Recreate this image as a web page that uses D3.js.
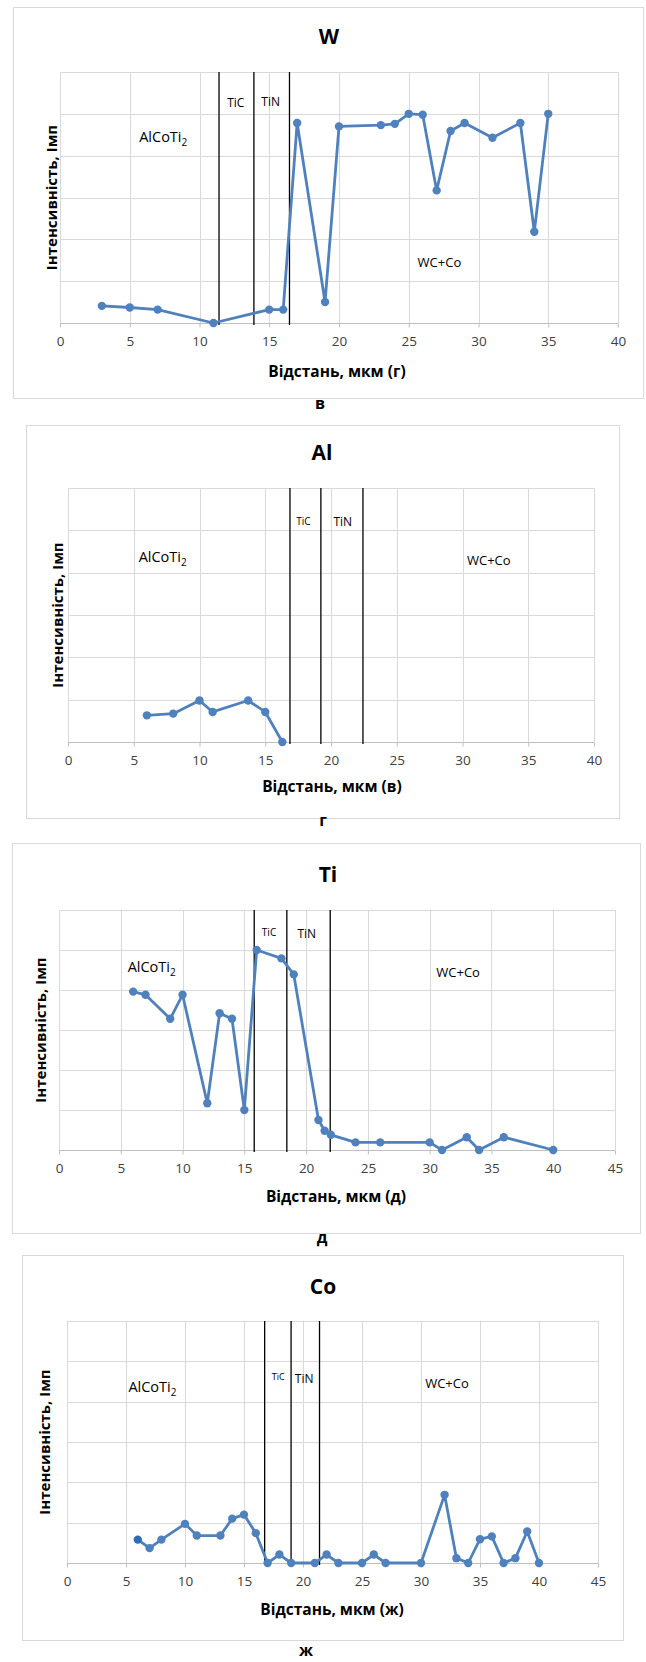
<!DOCTYPE html>
<html>
<head>
<meta charset="utf-8">
<script src="https://cdnjs.cloudflare.com/ajax/libs/d3/7.8.5/d3.min.js"></script>
<style>
  body { margin: 0; background: #fff; }
  text { font-family: "Open Sans", "Noto Sans", sans-serif; fill: #000; }
</style>
</head>
<body>
<div id="chart"></div>
<script>
var width = 646,
    height = 1662;

// W profile
var wX = [3, 5, 7, 11, 15, 16, 17, 19, 20, 23, 24, 25, 26, 27, 28, 29, 31, 33, 34, 35];
var wY = [4.1, 3.7, 3.2, 0, 3.2, 3.2, 47.8, 5.0, 47.0, 47.3, 47.6, 50.0, 49.8, 31.7, 45.9, 47.8, 44.3, 47.8, 21.8, 50.0];
var wBounds = [11.4, 13.9, 16.45];

// Al profile
var alX = [6, 8, 10, 11, 13.7, 15, 16.3];
var alY = [6.3, 6.7, 9.8, 7.1, 9.8, 7.1, 0];
var alBounds = [16.88, 19.23, 22.43];

// Ti profile
var tiX = [6, 7, 9, 10, 12, 13, 14, 15, 16, 18, 19, 21, 21.5, 22, 24, 26, 30, 31, 33, 34, 36, 40];
var tiY = [39.6, 38.8, 32.8, 38.8, 11.7, 34.2, 32.8, 10.0, 50.0, 47.9, 43.9, 7.5, 4.8, 3.8, 1.9, 1.9, 1.9, 0, 3.2, 0, 3.2, 0];
var tiBounds = [15.8, 18.44, 21.95];

// Co profile
var coX = [6, 7, 8, 10, 11, 13, 14, 15, 16, 17, 18, 19, 21, 22, 23, 25, 26, 27, 30, 32, 33, 34, 35, 36, 37, 38, 39, 40];
var coY = [5.8, 3.7, 5.8, 9.7, 6.8, 6.8, 11.0, 12.0, 7.4, 0, 2.1, 0, 0, 2.1, 0, 0, 2.1, 0, 0, 16.9, 1.2, 0, 5.9, 6.6, 0, 1.2, 7.8, 0];
var coBounds = [16.75, 18.99, 21.4];

var ticks40 = [0, 5, 10, 15, 20, 25, 30, 35, 40];
var ticks45 = [0, 5, 10, 15, 20, 25, 30, 35, 40, 45];
var yGrid = [0, 10, 20, 30, 40, 50, 60];

var yTitle = 'Інтенсивність, Імп';
var lineColor = '#4f81bd';

var svg = d3.select('#chart')
    .append('svg')
    .attr('width', width)
    .attr('height', height);

var charts = [
    { title: 'W', xs: wX, ys: wY, bounds: wBounds, ticks: ticks40, xMax: 40,
      box: [13, 7, 643, 398], plot: [60, 72, 618, 323],
      titleX: 329, titleY: 44, xTitle: 'Відстань, мкм (г)', xTitleY: 377, xTitleX: 337, yTitleX: 52,
      tic: [12.6, 107, 12], tin: [15.1, 106, 12], alco: [7.4, 142], wc: [27.2, 267],
      tag: 'в', tagX: 320, tagY: 409 },
    { title: 'Al', xs: alX, ys: alY, bounds: alBounds, ticks: ticks40, xMax: 40,
      box: [26, 425, 619, 818], plot: [68, 488, 594, 742],
      titleX: 322, titleY: 460, xTitle: 'Відстань, мкм (в)', xTitleY: 792, xTitleX: 332, yTitleX: 58,
      tic: [17.9, 525, 10], tin: [20.9, 526, 12], alco: [7.2, 562], wc: [32.0, 565],
      tag: 'г', tagX: 323, tagY: 826 },
    { title: 'Ti', xs: tiX, ys: tiY, bounds: tiBounds, ticks: ticks45, xMax: 45,
      box: [12, 843, 640, 1233], plot: [59, 910, 615, 1150],
      titleX: 328, titleY: 882, xTitle: 'Відстань, мкм (д)', xTitleY: 1202, xTitleX: 336, yTitleX: 41,
      tic: [17.0, 936, 10], tin: [20.05, 938, 12], alco: [7.5, 972], wc: [32.3, 977],
      tag: 'д', tagX: 322, tagY: 1243 },
    { title: 'Co', xs: coX, ys: coY, bounds: coBounds, ticks: ticks45, xMax: 45,
      box: [22, 1255, 623, 1640], plot: [67, 1321, 598, 1563],
      titleX: 323, titleY: 1294, xTitle: 'Відстань, мкм (ж)', xTitleY: 1615, xTitleX: 332, yTitleX: 45,
      tic: [17.9, 1380, 9], tin: [20.1, 1383, 12], alco: [7.24, 1392], wc: [32.2, 1388],
      tag: 'ж', tagX: 306, tagY: 1656, firstDark: true }
];

charts.forEach(drawChart);

function drawChart(c) {
    var g = svg.append('g');
    var p = c.plot;

    g.append('rect')
        .attr('x', c.box[0] + 0.5).attr('y', c.box[1] + 0.5)
        .attr('width', c.box[2] - c.box[0]).attr('height', c.box[3] - c.box[1])
        .attr('fill', '#fff').attr('stroke', '#d9d9d9');

    var x = d3.scaleLinear().domain([0, c.xMax]).range([p[0], p[2]]);
    var y = d3.scaleLinear().domain([0, 60]).range([p[3], p[1]]);

    // grid
    g.selectAll('.vg').data(c.ticks).enter().append('line')
        .attr('x1', function(d) { return Math.round(x(d)) + 0.5; })
        .attr('x2', function(d) { return Math.round(x(d)) + 0.5; })
        .attr('y1', p[1]).attr('y2', p[3])
        .attr('stroke', '#d9d9d9');
    g.selectAll('.hg').data(yGrid).enter().append('line')
        .attr('x1', p[0]).attr('x2', p[2])
        .attr('y1', function(d) { return Math.round(y(d)) + 0.5; })
        .attr('y2', function(d) { return Math.round(y(d)) + 0.5; })
        .attr('stroke', function(d) { return d === 0 ? '#bfbfbf' : '#d9d9d9'; });

    // x axis
    var axis = g.append('g')
        .attr('transform', 'translate(0,' + (Math.round(y(0)) + 0.5) + ')')
        .call(d3.axisBottom(x).tickValues(c.ticks).tickSize(4).tickSizeOuter(0));
    axis.select('.domain').remove();
    axis.selectAll('line').attr('stroke', '#bfbfbf');
    axis.selectAll('text')
        .attr('dy', null).attr('y', 22)
        .style('font-size', '13.5px').style('fill', '#404040')
        .style('font-family', '"Open Sans", sans-serif');

    // layer boundaries
    g.selectAll('.bd').data(c.bounds).enter().append('line')
        .attr('x1', function(d) { return x(d); })
        .attr('x2', function(d) { return x(d); })
        .attr('y1', p[1]).attr('y2', p[3] + 2)
        .attr('stroke', '#000').attr('stroke-width', 1.3);

    // region labels
    g.append('text').attr('x', x(c.tic[0])).attr('y', c.tic[1])
        .attr('text-anchor', 'middle').style('font-size', c.tic[2] + 'px').text('TiC');
    g.append('text').attr('x', x(c.tin[0])).attr('y', c.tin[1])
        .attr('text-anchor', 'middle').style('font-size', c.tin[2] + 'px').text('TiN');
    var al = g.append('text').attr('x', x(c.alco[0])).attr('y', c.alco[1])
        .attr('text-anchor', 'middle').style('font-size', '14.5px');
    al.append('tspan').text('AlCoTi');
    al.append('tspan').attr('dy', 4).style('font-size', '10px').text('2');
    g.append('text').attr('x', x(c.wc[0])).attr('y', c.wc[1])
        .attr('text-anchor', 'middle').style('font-size', '13px').text('WC+Co');

    // series
    var pts = c.xs.map(function(v, i) { return [v, c.ys[i]]; });
    var line = d3.line()
        .x(function(d) { return x(d[0]); })
        .y(function(d) { return y(d[1]); });
    g.append('path').datum(pts)
        .attr('d', line)
        .attr('fill', 'none')
        .attr('stroke', lineColor)
        .attr('stroke-width', 2.8)
        .attr('stroke-linejoin', 'round');
    g.selectAll('.pt').data(pts).enter().append('circle')
        .attr('cx', function(d) { return x(d[0]); })
        .attr('cy', function(d) { return y(d[1]); })
        .attr('r', 4.2)
        .attr('fill', function(d, i) { return (c.firstDark && i === 0) ? '#2e6db4' : lineColor; });

    // titles
    g.append('text').attr('x', c.titleX).attr('y', c.titleY)
        .attr('text-anchor', 'middle').style('font-size', '21px').style('font-weight', 'bold')
        .text(c.title);
    g.append('text').attr('x', c.xTitleX).attr('y', c.xTitleY)
        .attr('text-anchor', 'middle').style('font-size', '15.5px').style('font-weight', 'bold')
        .text(c.xTitle);
    g.append('text')
        .attr('transform', 'translate(' + c.yTitleX + ',' + ((p[1] + p[3]) / 2) + ') rotate(-90)')
        .attr('text-anchor', 'middle').attr('dy', '0.35em')
        .style('font-size', '15px').style('font-weight', 'bold')
        .text(yTitle);

    svg.append('text').attr('x', c.tagX).attr('y', c.tagY)
        .attr('text-anchor', 'middle').style('font-size', '16px').style('font-weight', 'bold')
        .text(c.tag);
}
</script>
</body>
</html>
